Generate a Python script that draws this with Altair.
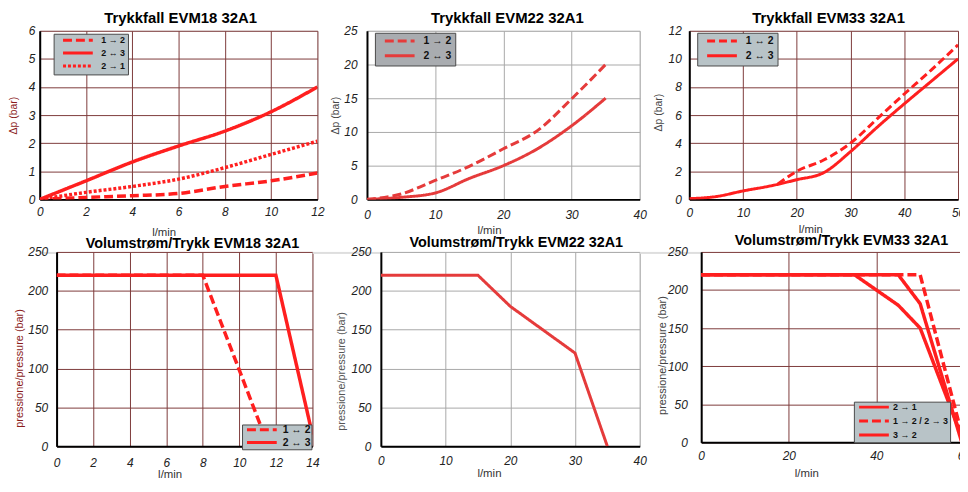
import altair as alt
import pandas as pd

FONT = "Liberation Sans"
RED = "#ff1f1f"
RED2 = "#e53b3b"
GRID_M = "#7d3b3b"
GRID_G = "#a8a8a8"
LEG_BG = "#b8c3c7"
LEG_BG2 = "#a9acb0"

# ---------------- data ----------------
# Trykkfall EVM18 32A1
P1_X = [0, 2, 4, 6, 8, 10, 12]
P1_S12 = [0, 0.07, 0.13, 0.21, 0.46, 0.66, 0.94]
P1_S23 = [0, 0.66, 1.33, 1.9, 2.43, 3.12, 4.0]
P1_S21 = [0, 0.25, 0.46, 0.72, 1.13, 1.6, 2.07]
P1_XT = [0, 2, 4, 6, 8, 10, 12]
P1_YT = [0, 1, 2, 3, 4, 5, 6]

# Trykkfall EVM22 32A1
P2_X = [0, 5, 10, 15, 20, 25, 30, 35]
P2_S12 = [0, 0.8, 2.8, 4.9, 7.5, 10.2, 14.9, 20]
P2_S23 = [0, 0.3, 0.95, 3.1, 5.0, 7.5, 10.9, 15]
P2_XT = [0, 10, 20, 30, 40]
P2_YT = [0, 5, 10, 15, 20, 25]

# Trykkfall EVM33 32A1
P3_X23 = [0, 5, 10, 15, 20, 25, 30, 35, 40, 45, 50]
P3_S23 = [0.05, 0.2, 0.6, 0.95, 1.4, 1.9, 3.4, 5.15, 6.8, 8.4, 10]
P3_X12 = [16.5, 20, 25, 30, 35, 40, 45, 50]
P3_S12 = [1.1, 2.0, 2.8, 4.0, 5.75, 7.5, 9.2, 11]
P3_XT = [0, 10, 20, 30, 40, 50]
P3_YT = [0, 2, 4, 6, 8, 10, 12]

# Volumstrøm/Trykk EVM18 32A1
P4_X12 = [0, 8, 11.6]
P4_S12 = [220, 220, 0]
P4_X23 = [0, 12, 14]
P4_S23 = [220, 220, 15]
P4_XT = [0, 2, 4, 6, 8, 10, 12, 14]
P4_YT = [0, 50, 100, 150, 200, 250]

# Volumstrøm/Trykk EVM22 32A1
P5_X = [0, 15, 20, 30, 35]
P5_S = [220, 220, 180, 120, 0]
P5_XT = [0, 10, 20, 30, 40]
P5_YT = [0, 50, 100, 150, 200, 250]

# Volumstrøm/Trykk EVM33 32A1
P6_X21 = [0, 35, 40, 45, 50, 60]
P6_S21 = [220, 220, 200, 180, 150, 0]
P6_X1223 = [0, 50, 60]
P6_S1223 = [220, 220, 0]
P6_X32 = [0, 45, 50, 59.5]
P6_S32 = [220, 220, 182, 0]
P6_XT = [0, 20, 40, 60]
P6_YT = [0, 50, 100, 150, 200, 250]

DASH = [9, 4]
DOT = [3, 2]
SOLID = [1, 0]


def panel(c):
    rows = []
    for name, xs, ys in c["series"]:
        for i, (xv, yv) in enumerate(zip(xs, ys)):
            rows.append({"serie": name, "x": xv, "y": yv, "i": i})
    df = pd.DataFrame(rows)
    names = [s[0] for s in c["series"]]
    common = dict(labelFont=FONT, labelFontStyle="italic", labelFontSize=12, labelColor="#222",
                  ticks=False, grid=True, gridColor=c["grid"], gridWidth=1, gridOpacity=1,
                  domainColor="#000", domainWidth=2, labelOverlap=False, labelFlush=False,
                  titleFont=FONT, titleFontWeight="normal")
    xaxis = alt.Axis(values=c["xt"], title="l/min", titleX=c["xtx"], titleY=c["xty"],
                     titleBaseline="alphabetic", titleAlign="center", titleFontSize=11.5,
                     titleColor="#333", labelPadding=c["xlp"], **common)
    yaxis = alt.Axis(values=c["yt"], title=c["ytitle"], titleX=c["ytx"], titleY=c["yty"],
                     titleAngle=270, titleAlign="center", titleBaseline="middle",
                     titleFontSize=c["ytfs"], titleColor=c["ytc"], labelPadding=c["ylp"], **common)
    lg = c.get("legend")
    if lg:
        legend = alt.Legend(orient="none", legendX=lg["x"], legendY=lg["y"], title=None,
                            fillColor=lg["bg"], strokeColor="#4a4a4a", padding=lg["pad"],
                            symbolType="M-7.5,0H7.5", symbolSize=16, symbolStrokeWidth=3,
                            symbolStrokeColor=c["color"], symbolFillColor="transparent",
                            symbolOffset=lg["so"], labelOffset=lg["lo"], labelFont=FONT,
                            labelFontSize=lg["fs"], labelFontWeight="bold", labelColor="#111",
                            rowPadding=lg["rp"], cornerRadius=0)
    else:
        legend = None
    return alt.Chart(df).mark_line(
        color=c["color"], strokeWidth=c["sw"], interpolate=c["interp"], clip=True
    ).encode(
        x=alt.X("x:Q", scale=alt.Scale(domain=c["xd"], nice=False, zero=False), axis=xaxis),
        y=alt.Y("y:Q", scale=alt.Scale(domain=c["yd"], nice=False, zero=False), axis=yaxis),
        strokeDash=alt.StrokeDash("serie:N", scale=alt.Scale(domain=names, range=c["dashes"]),
                                  legend=legend),
        order="i:Q",
    ).properties(
        width=c["w"], height=c["h"],
        title=alt.TitleParams(c["title"], font=FONT, fontSize=c["tfs"], fontWeight="bold",
                              color="#000", anchor="middle", offset=0, dx=c["tdx"],
                              dy=c["tdy"]),
    )


p1 = panel(dict(
    series=[("1 → 2", P1_X, P1_S12), ("2 ↔ 3", P1_X, P1_S23), ("2 → 1", P1_X, P1_S21)],
    dashes=[DASH, SOLID, DOT], xd=[0, 12], yd=[0, 6], xt=P1_XT, yt=P1_YT, w=280, h=170,
    grid=GRID_M, color=RED, sw=3.5, interp="monotone", title="Trykkfall EVM18 32A1",
    tfs=15, tdy=1, tdx=2, ytitle="Δp (bar)", ytfs=10.5, ytc="#8b1c1c", ytx=-26, yty=85,
    xtx=125, xty=36, xlp=7, ylp=5,
    legend=dict(x=14, y=3, bg=LEG_BG, pad=2, so=18, lo=19, fs=9, rp=0)))

p2 = panel(dict(
    series=[("1 → 2", P2_X, P2_S12), ("2 ↔ 3", P2_X, P2_S23)],
    dashes=[DASH, SOLID], xd=[0, 40], yd=[0, 25], xt=P2_XT, yt=P2_YT, w=275, h=170,
    grid=GRID_G, color=RED2, sw=3, interp="monotone", title="Trykkfall EVM22 32A1",
    tfs=15, tdy=1, tdx=4, ytitle="Δp (bar)", ytfs=10.5, ytc="#444", ytx=-32, yty=85,
    xtx=123, xty=34, xlp=10, ylp=10,
    legend=dict(x=8, y=2, bg=LEG_BG2, pad=3, so=16.75, lo=18.75, fs=10.5, rp=2)))

p3 = panel(dict(
    series=[("1 ↔ 2", P3_X12, P3_S12), ("2 ↔ 3", P3_X23, P3_S23)],
    dashes=[[8, 4], SOLID], xd=[0, 50], yd=[0, 12], xt=P3_XT, yt=P3_YT, w=271, h=170,
    grid=GRID_M, color=RED, sw=3, interp="monotone", title="Trykkfall EVM33 32A1",
    tfs=15, tdy=1, tdx=5, ytitle="Δp (bar)", ytfs=10.5, ytc="#444", ytx=-31, yty=82,
    xtx=122, xty=33, xlp=8, ylp=8,
    legend=dict(x=8, y=2, bg=LEG_BG, pad=3, so=16.75, lo=18.75, fs=10.5, rp=2)))

p4 = panel(dict(
    series=[("1 ↔ 2", P4_X12, P4_S12), ("2 ↔ 3", P4_X23, P4_S23)],
    dashes=[DASH, SOLID], xd=[0, 14], yd=[0, 250], xt=P4_XT, yt=P4_YT, w=258, h=196,
    grid=GRID_M, color=RED, sw=3.5, interp="linear", title="Volumstrøm/Trykk EVM18 32A1",
    tfs=14.5, tdy=6, tdx=8, ytitle="pressione/pressure (bar)", ytfs=11, ytc="#8b1c1c",
    ytx=-37, yty=117, xtx=114, xty=31, xlp=11, ylp=9,
    legend=dict(x=187, y=174, bg=LEG_BG, pad=0, so=14.75, lo=15.75, fs=10.5, rp=0)))

p5 = panel(dict(
    series=[("a", P5_X, P5_S)],
    dashes=[SOLID], xd=[0, 40], yd=[0, 250], xt=P5_XT, yt=P5_YT, w=261, h=196,
    grid=GRID_G, color=RED2, sw=3, interp="linear", title="Volumstrøm/Trykk EVM22 32A1",
    tfs=14.5, tdy=5, tdx=6, ytitle="pressione/pressure (bar)", ytfs=11, ytc="#555",
    ytx=-40, yty=120, xtx=109, xty=30, xlp=9, ylp=10))

p6 = panel(dict(
    series=[("2 → 1", P6_X21, P6_S21), ("1 → 2 / 2 → 3", P6_X1223, P6_S1223),
            ("3 → 2", P6_X32, P6_S32)],
    dashes=[SOLID, DASH, SOLID], xd=[0, 60], yd=[0, 250], xt=P6_XT, yt=P6_YT, w=265, h=192,
    grid=GRID_M, color=RED, sw=3.5, interp="linear", title="Volumstrøm/Trykk EVM33 32A1",
    tfs=14.5, tdy=3, tdx=9, ytitle="pressione/pressure (bar)", ytfs=11, ytc="#444",
    ytx=-39, yty=104, xtx=106, xty=34, xlp=8, ylp=14,
    legend=dict(x=154, y=151, bg=LEG_BG, pad=1, so=14.75, lo=14.75, fs=9, rp=1)))


def spacer(w):
    return alt.Chart(pd.DataFrame({"a": [0]})).mark_point(opacity=0, size=1).encode(
        x=alt.value(0), y=alt.value(0)
    ).properties(width=w, height=1)


row1 = alt.hconcat(p1, p2, p3, spacing=50, bounds="flush").resolve_scale(
    strokeDash="independent").resolve_legend(strokeDash="independent")
row2 = alt.hconcat(spacer(17), p4, spacer(69), p5, spacer(62), p6, spacing=0,
                   bounds="flush").resolve_scale(
    strokeDash="independent").resolve_legend(strokeDash="independent")

chart = alt.vconcat(row1, row2, spacing=-5).resolve_scale(
    strokeDash="independent"
).resolve_legend(strokeDash="independent").properties(
    autosize=alt.AutoSizeParams(type="none"),
    padding={"left": 32, "top": 21, "right": 928, "bottom": 451},
).configure_view(stroke=None).configure(font=FONT)

chart.save("out.html", embed_options={"renderer": "svg", "actions": False})
